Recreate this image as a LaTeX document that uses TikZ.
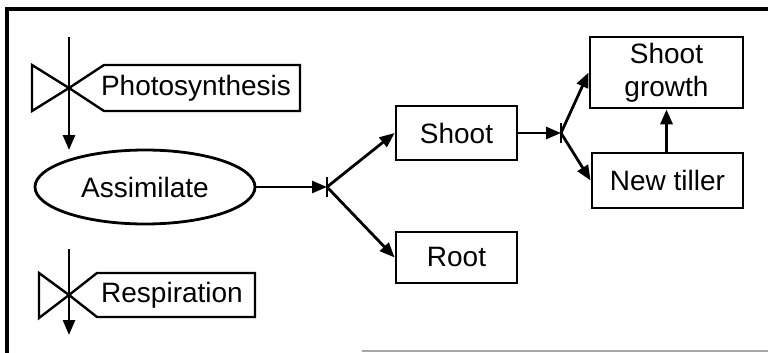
\documentclass[tikz,border=0pt]{standalone}
\usepackage{fontspec}
\setmainfont{Liberation Sans}
\usetikzlibrary{arrows.meta,shapes.geometric}
\begin{document}
\begin{tikzpicture}[x=1pt,y=-1pt,
  every node/.style={font=\fontsize{28}{33}\selectfont,inner sep=0pt},
  flow/.style={line width=2.8pt,-{Triangle[length=15pt,width=12pt]}},
  box/.style={draw,line width=2.8pt},
  valve/.style={line width=2.4pt,line join=miter},
  tick/.style={line width=2.8pt}
]
\useasboundingbox (0,0) rectangle (768,353);

% frame
\draw[line width=3.5pt] (7,353) -- (7,9) -- (768,9);
\draw[line width=2pt,gray!70] (362,351) -- (768,351);

% photosynthesis valve
\coordinate (psTop) at (69,37);
\coordinate (psV) at (69,88);
\coordinate (psEnd) at (69,150);
\draw[valve] (psV) -- (32,65) -- (32,111) -- cycle;
\draw[valve] (psV) -- (104,65) -- (300,65) -- (300,111) -- (104,111) -- cycle;
\node (ps) at (196,88) {Photosynthesis};
\draw[flow] (psTop) -- (psEnd);

% respiration valve
\coordinate (rsTop) at (69,249);
\coordinate (rsV) at (69,295);
\coordinate (rsEnd) at (69,335);
\draw[valve] (rsV) -- (39,273) -- (39,318) -- cycle;
\draw[valve] (rsV) -- (97,273) -- (255,273) -- (255,317) -- (97,317) -- cycle;
\node (rs) at (172,295) {Respiration};
\draw[flow] (rsTop) -- (rsEnd);

% pools and organs
\node[box,ellipse,minimum width=220pt,minimum height=74pt] (asm) at (145,187) {Assimilate};
\node[box,minimum width=121pt,minimum height=54pt] (shoot) at (456.5,133) {Shoot};
\node[box,minimum width=121pt,minimum height=51pt] (root) at (456.5,257.5) {Root};
\node[box,minimum width=153pt,minimum height=71pt,align=center] (sg) at (666.5,72.5) {Shoot\\growth};
\node[box,minimum width=151pt,minimum height=55pt] (nt) at (667.5,180.5) {New tiller};

% first branch point
\coordinate (j1) at (327,187);
\draw[tick] (327,177) -- (327,197);
\draw[flow] (asm.east) -- (j1);
\draw[flow] (j1) -- (shoot.west);
\draw[flow] (j1) -- (root.west);

% second branch point
\coordinate (j2) at (561,133);
\draw[tick] (561,123) -- (561,143);
\draw[flow] (shoot.east) -- (j2);
\draw[flow] (j2) -- (sg.west);
\draw[flow] (j2) -- (nt.west);

\draw[flow,line width=3.2pt] (nt.north -| sg.south) -- (sg.south);
\end{tikzpicture}
\end{document}
